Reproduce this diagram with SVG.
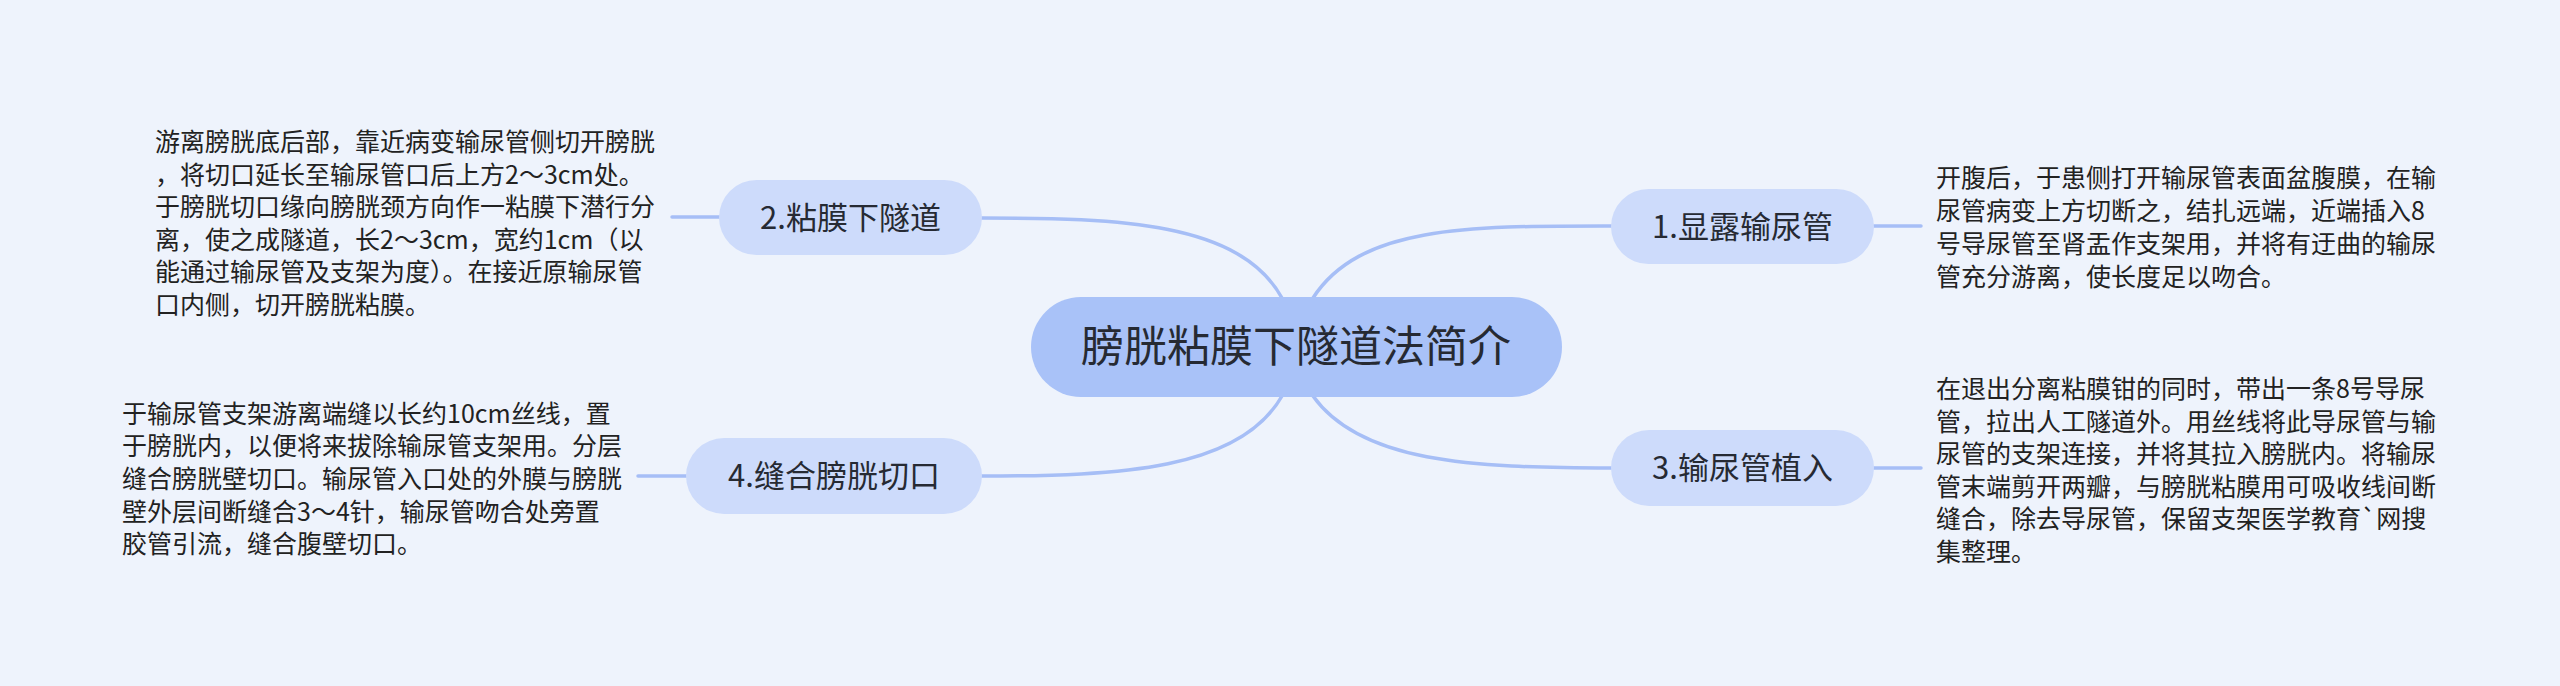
<svg xmlns="http://www.w3.org/2000/svg" width="2560" height="686" viewBox="0 0 2560 686">
<style>
.bg{fill:#eef3fc}
.line{fill:none;stroke:#a6bef6;stroke-width:3.5;stroke-linecap:round}
.root{fill:#a9c2f8}
.sub{fill:#cddbfb}
.rt{font-family:"Noto Sans CJK SC","Noto Sans",sans-serif;font-size:43px;fill:#262a33;text-anchor:middle}
.st{font-family:"Noto Sans CJK SC","Noto Sans",sans-serif;font-size:31px;fill:#262a33;text-anchor:middle}
.bt{font-family:"Noto Sans CJK SC","Noto Sans",sans-serif;font-size:25px;fill:#222222}
</style>
<rect class="bg" x="0" y="0" width="2560" height="686"/>
<g id="connectors">
<path class="line" d="M1282 298 C1240 222 1120 218 982 218"/>
<path class="line" d="M1313 298 C1360 225 1470 226 1611 226"/>
<path class="line" d="M1282 396 C1240 470 1120 476 982 476"/>
<path class="line" d="M1313 396 C1360 462 1470 468 1611 468"/>
<path class="line" d="M672 217 H719"/>
<path class="line" d="M638 476 H686"/>
<path class="line" d="M1874 226 H1921"/>
<path class="line" d="M1874 468 H1921"/>
</g>
<g id="root">
<rect class="root" x="1031" y="297" width="531" height="100" rx="50"/>
<text class="rt" x="1296" y="362">膀胱粘膜下隧道法简介</text>
</g>
<g id="node1">
<rect class="sub" x="1611" y="189" width="263" height="75" rx="37.5"/>
<text class="st" x="1742.5" y="237.5">1.显露输尿管</text>
</g>
<g id="node1-detail">
<text class="bt" x="1936" y="186.5">开腹后，于患侧打开输尿管表面盆腹膜，在输</text>
<text class="bt" x="1936" y="219.5">尿管病变上方切断之，结扎远端，近端插入8</text>
<text class="bt" x="1936" y="252.5">号导尿管至肾盂作支架用，并将有迂曲的输尿</text>
<text class="bt" x="1936" y="285.5">管充分游离，使长度足以吻合。</text>
</g>
<g id="node2">
<rect class="sub" x="719" y="180" width="263" height="75" rx="37.5"/>
<text class="st" x="850.5" y="228.5">2.粘膜下隧道</text>
</g>
<g id="node2-detail">
<text class="bt" x="155" y="151">游离膀胱底后部，靠近病变输尿管侧切开膀胱</text>
<text class="bt" x="155" y="183.5">，将切口延长至输尿管口后上方2～3cm处。</text>
<text class="bt" x="155" y="216">于膀胱切口缘向膀胱颈方向作一粘膜下潜行分</text>
<text class="bt" x="155" y="248.5">离，使之成隧道，长2～3cm，宽约1cm（以</text>
<text class="bt" x="155" y="281">能通过输尿管及支架为度）。在接近原输尿管</text>
<text class="bt" x="155" y="313.5">口内侧，切开膀胱粘膜。</text>
</g>
<g id="node3">
<rect class="sub" x="1611" y="430" width="263" height="76" rx="38"/>
<text class="st" x="1742.5" y="479">3.输尿管植入</text>
</g>
<g id="node3-detail">
<text class="bt" x="1936" y="398">在退出分离粘膜钳的同时，带出一条8号导尿</text>
<text class="bt" x="1936" y="430.6">管，拉出人工隧道外。用丝线将此导尿管与输</text>
<text class="bt" x="1936" y="463.2">尿管的支架连接，并将其拉入膀胱内。将输尿</text>
<text class="bt" x="1936" y="495.8">管末端剪开两瓣，与膀胱粘膜用可吸收线间断</text>
<text class="bt" x="1936" y="528.4">缝合，除去导尿管，保留支架医学教育`网搜</text>
<text class="bt" x="1936" y="561">集整理。</text>
</g>
<g id="node4">
<rect class="sub" x="686" y="438" width="296" height="76" rx="38"/>
<text class="st" x="834" y="487">4.缝合膀胱切口</text>
</g>
<g id="node4-detail">
<text class="bt" x="122" y="422.5">于输尿管支架游离端缝以长约10cm丝线，置</text>
<text class="bt" x="122" y="455.2">于膀胱内，以便将来拔除输尿管支架用。分层</text>
<text class="bt" x="122" y="487.9">缝合膀胱壁切口。输尿管入口处的外膜与膀胱</text>
<text class="bt" x="122" y="520.6">壁外层间断缝合3～4针，输尿管吻合处旁置</text>
<text class="bt" x="122" y="553.3">胶管引流，缝合腹壁切口。</text>
</g>
</svg>
